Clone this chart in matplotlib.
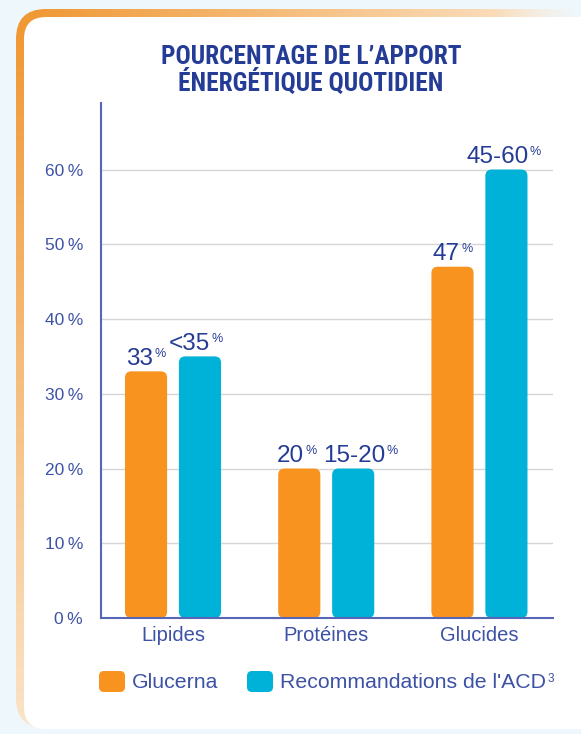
import numpy as np
import matplotlib
matplotlib.use("Agg")
import matplotlib.pyplot as plt
from matplotlib import font_manager
from matplotlib.patches import FancyBboxPatch
from matplotlib.offsetbox import TextArea, HPacker, AnnotationBbox

# données
categories = ["Lipides", "Protéines", "Glucides"]
series_names = ["Glucerna", "Recommandations de l'ACD"]
glucerna = [33, 20, 47]
acd = [35, 20, 60]
glucerna_labels = ["33", "20", "47"]
acd_labels = ["<35", "15-20", "45-60"]
yticks = [0, 10, 20, 30, 40, 50, 60]

ORANGE = "#f7931e"
BLUE = "#00b2d8"
NAVY = "#253c96"
TXT = "#3d52a6"

plt.rcParams['font.family'] = ['Liberation Sans', 'DejaVu Sans']

# police étroite pour le titre si disponible
installed = {f.name for f in font_manager.fontManager.ttflist}
if "Roboto Condensed" in installed:
    title_font, title_size = "Roboto Condensed", 18.3
elif "Liberation Sans Narrow" in installed:
    title_font, title_size = "Liberation Sans Narrow", 17
else:
    title_font, title_size = "Liberation Sans", 14.5

W, H = 581, 734
fig = plt.figure(figsize=(W / 100, H / 100), dpi=100)
fig.patch.set_facecolor("#eef7fb")

# fond : carte blanche avec bordure orange dégradée
bg = fig.add_axes([0, 0, 1, 1], zorder=0)
bg.set_xlim(0, W)
bg.set_ylim(H, 0)
bg.axis("off")

yy, xx = np.mgrid[0:H, 0:W]
dark = np.array([240, 152, 52]) / 255
light = np.array([251, 228, 200]) / 255
t_top = np.clip((xx - 30) / 520, 0, 1)
t_left = np.clip((yy - 30) / 700, 0, 1)
t = np.where(xx < 40, t_left, t_top)
rgba = np.zeros((H, W, 4))
rgba[..., :3] = dark * (1 - t[..., None]) + light * t[..., None]
rgba[..., 3] = np.where(xx < 40, 1.0, np.clip((575 - xx) / 80, 0, 1))

outer = FancyBboxPatch((16, 9), 700, 719, boxstyle="round,pad=0,rounding_size=30",
                       transform=bg.transData, fc="none", ec="none")
bg.add_patch(outer)
im = bg.imshow(rgba, extent=(0, W, H, 0), zorder=1, interpolation="bilinear")
im.set_clip_path(outer)
bg.add_patch(FancyBboxPatch((24, 17), 700, 712, boxstyle="round,pad=0,rounding_size=22",
                            fc="white", ec="none", zorder=2))

# titre
for txt, yb in (("POURCENTAGE DE L\u2019APPORT", 64), ("ÉNERGÉTIQUE QUOTIDIEN", 91)):
    fig.text(311 / W, 1 - yb / H, txt, ha="center", va="baseline",
             fontsize=title_size, fontweight="bold", color=NAVY,
             family=[title_font, "DejaVu Sans"])

# graphique
ax = fig.add_axes([101 / W, 1 - 618 / H, (553 - 101) / W, (618 - 103) / H], zorder=3)
ax.patch.set_alpha(0)

x = np.arange(len(categories))
bw = 0.275
off = 0.176
b1 = ax.bar(x - off, glucerna, bw, color=ORANGE)
b2 = ax.bar(x + off, acd, bw, color=BLUE)

ax.set_xlim(-0.47, 2.48)
ax.set_ylim(0, 68.9)

# barres arrondies
px_x = 153.0
px_y = 7.47
for bars, col in ((b1, ORANGE), (b2, BLUE)):
    for r in bars:
        r.set_visible(False)
        ax.add_patch(FancyBboxPatch((r.get_x(), r.get_y()), r.get_width(), r.get_height(),
                                    boxstyle="round,pad=0,rounding_size=0.042",
                                    mutation_aspect=px_x / px_y, fc=col, ec="none", zorder=2))


def sup_label(big, small, size_big, size_small, color):
    a = TextArea(big, textprops=dict(size=size_big, color=color))
    b = TextArea(small, textprops=dict(size=size_small, color=color))
    return HPacker(children=[a, b], align="top", pad=0, sep=1)


# petits décalages horizontaux des étiquettes (points)
nudge = ((x - off, glucerna, glucerna_labels, [0, -2, 0]),
         (x + off, acd, acd_labels, [-3, 5, -2]))
for xs, vals, labs, dx in nudge:
    for xi, v, lab, d in zip(xs, vals, labs, dx):
        box = sup_label(lab, "%", 17.5, 9, NAVY)
        ab = AnnotationBbox(box, (xi, v), xybox=(d, 1), xycoords="data",
                            boxcoords="offset points", box_alignment=(0.5, 0),
                            frameon=False, zorder=5)
        ax.add_artist(ab)

for s in ("top", "right"):
    ax.spines[s].set_visible(False)
for s in ("left", "bottom"):
    ax.spines[s].set_color("#5866b6")
    ax.spines[s].set_linewidth(1.5)
    ax.spines[s].set_zorder(4)

ax.set_yticks(yticks)
ax.set_yticklabels([f"{v}\u2009%" for v in yticks])
ax.set_xticks(x)
ax.set_xticklabels(categories)
ax.tick_params(axis="y", length=0, pad=13, labelsize=12.5, labelcolor=TXT)
ax.tick_params(axis="x", length=0, pad=6, labelsize=14.5, labelcolor=TXT)
ax.grid(axis="y", color="#d6d6d6", linewidth=1)
ax.set_axisbelow(True)

# légende
for (x0, col, name, sup) in ((99, ORANGE, series_names[0], ""), (247, BLUE, series_names[1], "3")):
    bg.add_patch(FancyBboxPatch((x0, 671), 26, 21, boxstyle="round,pad=0,rounding_size=5",
                                fc=col, ec="none", zorder=3))
    box = sup_label(name, sup, 15.3, 8.5, TXT)
    ab = AnnotationBbox(box, (x0 + 33, 682), xycoords="data", box_alignment=(0, 0.5),
                        frameon=False, zorder=4)
    bg.add_artist(ab)

fig.savefig("out.png", dpi=100, facecolor=fig.get_facecolor())
